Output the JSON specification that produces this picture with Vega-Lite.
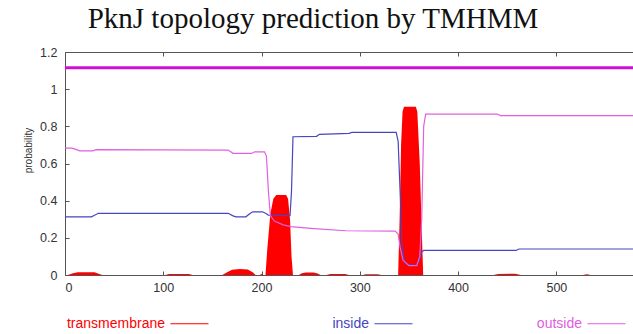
{
  "$schema": "https://vega.github.io/schema/vega-lite/v6.json",
  "width": 568,
  "height": 223,
  "autosize": {"type": "none"},
  "padding": {"left": 65, "top": 52, "right": 0, "bottom": 59},
  "background": "white",
  "title": {
    "text": "PknJ topology prediction by TMHMM",
    "font": "Liberation Serif",
    "fontSize": 29,
    "fontWeight": "normal",
    "color": "#111111",
    "anchor": "middle",
    "dx": -36,
    "offset": 12
  },
  "config": {
    "view": {"stroke": null},
    "axis": {
      "grid": false,
      "domainColor": "#555555",
      "tickColor": "#555555",
      "labelColor": "#333333",
      "labelFont": "Liberation Sans",
      "labelFontSize": 12.5,
      "tickSize": -4,
      "labelPadding": 12,
      "labelOverlap": false,
      "titleFont": "Liberation Sans",
      "titleFontWeight": "normal",
      "titleColor": "#333333"
    }
  },
  "datasets": {
    "probs": [
      {"series": "inside", "pos": 0, "prob": 0.313},
      {"series": "inside", "pos": 27, "prob": 0.313},
      {"series": "inside", "pos": 30, "prob": 0.322},
      {"series": "inside", "pos": 34, "prob": 0.332},
      {"series": "inside", "pos": 166, "prob": 0.332},
      {"series": "inside", "pos": 171, "prob": 0.318},
      {"series": "inside", "pos": 174, "prob": 0.313},
      {"series": "inside", "pos": 184, "prob": 0.313},
      {"series": "inside", "pos": 188, "prob": 0.33},
      {"series": "inside", "pos": 191, "prob": 0.34},
      {"series": "inside", "pos": 201, "prob": 0.34},
      {"series": "inside", "pos": 205, "prob": 0.33},
      {"series": "inside", "pos": 207, "prob": 0.322},
      {"series": "inside", "pos": 229, "prob": 0.32},
      {"series": "inside", "pos": 230.5, "prob": 0.45},
      {"series": "inside", "pos": 232, "prob": 0.744},
      {"series": "inside", "pos": 256, "prob": 0.746},
      {"series": "inside", "pos": 259, "prob": 0.757},
      {"series": "inside", "pos": 289, "prob": 0.762},
      {"series": "inside", "pos": 292, "prob": 0.767},
      {"series": "inside", "pos": 337, "prob": 0.767},
      {"series": "inside", "pos": 339, "prob": 0.72},
      {"series": "inside", "pos": 341, "prob": 0.45},
      {"series": "inside", "pos": 343, "prob": 0.15},
      {"series": "inside", "pos": 346, "prob": 0.06},
      {"series": "inside", "pos": 356, "prob": 0.05},
      {"series": "inside", "pos": 360, "prob": 0.07},
      {"series": "inside", "pos": 363, "prob": 0.125},
      {"series": "inside", "pos": 365, "prob": 0.132},
      {"series": "inside", "pos": 459, "prob": 0.132},
      {"series": "inside", "pos": 462, "prob": 0.14},
      {"series": "inside", "pos": 578, "prob": 0.14},
      {"series": "outside", "pos": 0, "prob": 0.683},
      {"series": "outside", "pos": 7, "prob": 0.683},
      {"series": "outside", "pos": 11, "prob": 0.676},
      {"series": "outside", "pos": 15, "prob": 0.668},
      {"series": "outside", "pos": 28, "prob": 0.668},
      {"series": "outside", "pos": 32, "prob": 0.675},
      {"series": "outside", "pos": 166, "prob": 0.672},
      {"series": "outside", "pos": 171, "prob": 0.655},
      {"series": "outside", "pos": 190, "prob": 0.654},
      {"series": "outside", "pos": 193, "prob": 0.663},
      {"series": "outside", "pos": 203, "prob": 0.663},
      {"series": "outside", "pos": 205, "prob": 0.64},
      {"series": "outside", "pos": 207, "prob": 0.45},
      {"series": "outside", "pos": 209, "prob": 0.32},
      {"series": "outside", "pos": 213, "prob": 0.29},
      {"series": "outside", "pos": 222, "prob": 0.27},
      {"series": "outside", "pos": 230, "prob": 0.26},
      {"series": "outside", "pos": 253, "prob": 0.25},
      {"series": "outside", "pos": 286, "prob": 0.238},
      {"series": "outside", "pos": 336, "prob": 0.236},
      {"series": "outside", "pos": 339, "prob": 0.22},
      {"series": "outside", "pos": 341, "prob": 0.15},
      {"series": "outside", "pos": 344, "prob": 0.08},
      {"series": "outside", "pos": 350, "prob": 0.05},
      {"series": "outside", "pos": 358, "prob": 0.05},
      {"series": "outside", "pos": 361, "prob": 0.1},
      {"series": "outside", "pos": 363, "prob": 0.3},
      {"series": "outside", "pos": 365, "prob": 0.8},
      {"series": "outside", "pos": 367, "prob": 0.866},
      {"series": "outside", "pos": 440, "prob": 0.866},
      {"series": "outside", "pos": 443, "prob": 0.858},
      {"series": "outside", "pos": 578, "prob": 0.858}
    ],
    "tm": [
      {"pos": 0, "prob": 0}, {"pos": 3, "prob": 0}, {"pos": 8, "prob": 0.01}, {"pos": 13, "prob": 0.015},
      {"pos": 30, "prob": 0.015}, {"pos": 35, "prob": 0.005}, {"pos": 38, "prob": 0},
      {"pos": 102, "prob": 0}, {"pos": 106, "prob": 0.005}, {"pos": 126, "prob": 0.005}, {"pos": 130, "prob": 0},
      {"pos": 160, "prob": 0}, {"pos": 165, "prob": 0.015}, {"pos": 170, "prob": 0.028}, {"pos": 178, "prob": 0.032},
      {"pos": 186, "prob": 0.03}, {"pos": 191, "prob": 0.015}, {"pos": 194, "prob": 0},
      {"pos": 198, "prob": 0}, {"pos": 200, "prob": 0.005}, {"pos": 202, "prob": 0},
      {"pos": 204, "prob": 0}, {"pos": 206, "prob": 0.15}, {"pos": 209, "prob": 0.33}, {"pos": 212, "prob": 0.41},
      {"pos": 215, "prob": 0.43}, {"pos": 225, "prob": 0.43}, {"pos": 227, "prob": 0.41}, {"pos": 229, "prob": 0.3},
      {"pos": 230.5, "prob": 0.1}, {"pos": 232, "prob": 0},
      {"pos": 238, "prob": 0}, {"pos": 241, "prob": 0.01}, {"pos": 245, "prob": 0.013}, {"pos": 253, "prob": 0.013},
      {"pos": 257, "prob": 0.008}, {"pos": 260, "prob": 0},
      {"pos": 266, "prob": 0}, {"pos": 270, "prob": 0.005}, {"pos": 285, "prob": 0.005}, {"pos": 289, "prob": 0},
      {"pos": 303, "prob": 0}, {"pos": 306, "prob": 0.004}, {"pos": 318, "prob": 0.004}, {"pos": 322, "prob": 0},
      {"pos": 339, "prob": 0}, {"pos": 340.5, "prob": 0.3}, {"pos": 342, "prob": 0.7}, {"pos": 343.5, "prob": 0.88},
      {"pos": 345, "prob": 0.905}, {"pos": 357, "prob": 0.905}, {"pos": 358.5, "prob": 0.88}, {"pos": 361, "prob": 0.6},
      {"pos": 363, "prob": 0.25}, {"pos": 364.5, "prob": 0},
      {"pos": 436, "prob": 0}, {"pos": 441, "prob": 0.006}, {"pos": 458, "prob": 0.007}, {"pos": 464, "prob": 0},
      {"pos": 527, "prob": 0}, {"pos": 531, "prob": 0.004}, {"pos": 535, "prob": 0}, {"pos": 578, "prob": 0}
    ],
    "topo": [
      {"pos": 0, "prob": 1.115},
      {"pos": 578, "prob": 1.115}
    ]
  },
  "layer": [
    {
      "layer": [
        {
          "data": {"name": "tm"},
          "mark": {"type": "area", "color": "#ff0000", "opacity": 1},
          "encoding": {
            "x": {
              "field": "pos", "type": "quantitative",
              "scale": {"domain": [0, 578], "nice": false},
              "axis": {"values": [0, 100, 200, 300, 400, 500], "title": null, "labelPadding": 10}
            },
            "y": {
              "field": "prob", "type": "quantitative",
              "scale": {"domain": [0, 1.2], "nice": false},
              "axis": {
                "values": [0, 0.2, 0.4, 0.6, 0.8, 1, 1.2],
                "tickCount": 7,
                "labelOverlap": false,
                "format": "~g",
                "title": "probability",
                "titleFontSize": 10,
                "titlePadding": 6,
                "titleY": 98,
                "labelPadding": 12
              }
            }
          }
        },
        {
          "data": {"name": "probs"},
          "mark": {"type": "line", "strokeWidth": 1.2},
          "encoding": {
            "x": {"field": "pos", "type": "quantitative"},
            "y": {"field": "prob", "type": "quantitative"},
            "color": {
              "field": "series", "type": "nominal",
              "scale": {
                "domain": ["transmembrane", "inside", "outside"],
                "range": ["#ff0000", "#4646c0", "#e060e0"]
              },
              "legend": {
                "title": null,
                "orient": "none",
                "legendX": 105,
                "legendY": 252,
                "direction": "horizontal",
                "columns": 3,
                "columnPadding": 121,
                "symbolType": "stroke",
                "symbolSize": 1444,
                "symbolStrokeWidth": 1,
                "labelFont": "Liberation Sans",
                "labelFontSize": 14,
                "labelAlign": "right",
                "labelOffset": -44,
                "labelLimit": 200,
                "padding": 0,
                "encode": {
                  "labels": {"update": {"fill": {"scale": "color", "field": "value"}}}
                }
              }
            }
          }
        }
      ]
    },
    {
      "data": {"name": "topo"},
      "mark": {"type": "line", "color": "#d010d0", "strokeWidth": 3},
      "encoding": {
        "x": {
          "field": "pos", "type": "quantitative",
          "axis": {"orient": "top", "values": [0, 100, 200, 300, 400, 500], "labels": false, "title": null}
        },
        "y": {
          "field": "prob", "type": "quantitative",
          "axis": {
            "values": [0, 0.2, 0.4, 0.6, 0.8, 1, 1.2],
            "tickCount": 7,
            "labelOverlap": false,
            "format": "~g",
            "title": "probability",
            "titleFontSize": 10,
            "titlePadding": 6,
            "titleY": 98,
            "labelPadding": 12
          }
        }
      }
    }
  ],
  "resolve": {"axis": {"x": "independent"}}
}
